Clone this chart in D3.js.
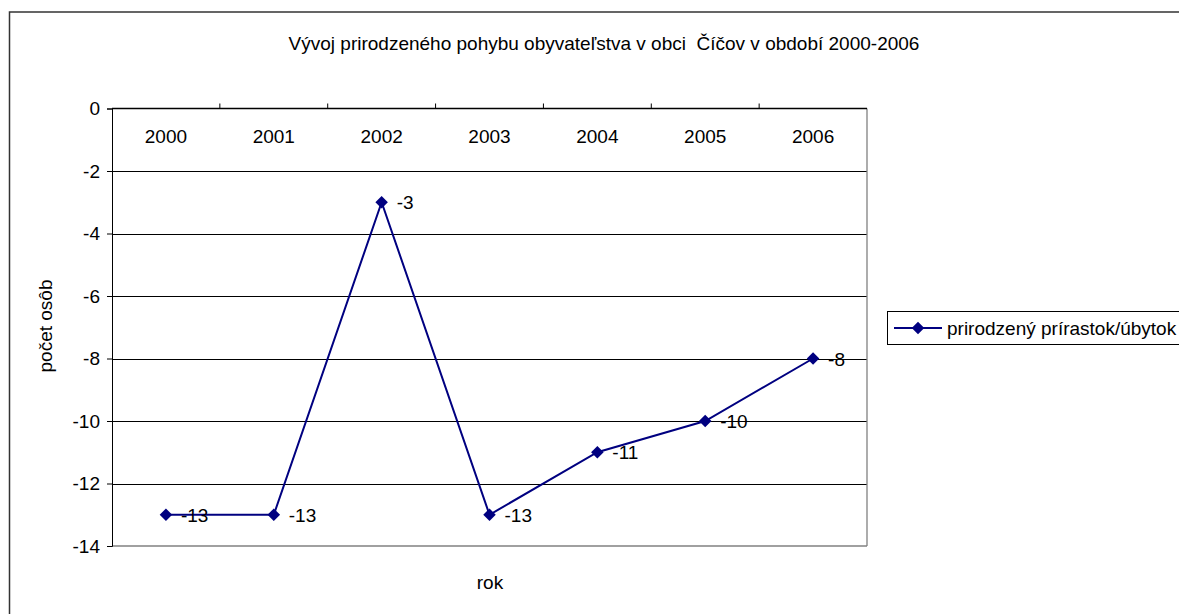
<!DOCTYPE html>
<html>
<head>
<meta charset="utf-8">
<script src="https://cdn.jsdelivr.net/npm/d3@7"></script>
<style>
  body { margin: 0; background: #fff; }
  text { font-family: "Liberation Sans", Arial, sans-serif; fill: #000; }
</style>
</head>
<body>
<script>
// údaje
const years = ["2000", "2001", "2002", "2003", "2004", "2005", "2006"];
const values = [-13, -13, -3, -13, -11, -10, -8];
const yTicks = [0, -2, -4, -6, -8, -10, -12, -14];
const seriesName = "prirodzený prírastok/úbytok";

const width = 1179;
const height = 614;
const plot = { left: 112, right: 867, top: 108.5, bottom: 546 };
const navy = "#000080";
const fs = "19px";

const svg = d3.select("body")
  .append("svg")
  .attr("width", width)
  .attr("height", height);

// vonkajší rámik
svg.append("rect")
  .attr("x", 9.5).attr("y", 12)
  .attr("width", 1200).attr("height", 650)
  .style("fill", "none")
  .style("stroke", "#333")
  .style("stroke-width", 1.5);

const x = d3.scaleBand()
  .domain(years)
  .range([plot.left, plot.right])
  .padding(0);

const y = d3.scaleLinear()
  .domain([-14, 0])
  .range([plot.bottom, plot.top]);

// mriežka
svg.selectAll(".grid")
  .data(yTicks.filter(d => d !== 0 && d !== -14))
  .enter()
  .append("line")
  .classed("grid", true)
  .attr("x1", plot.left).attr("x2", plot.right)
  .attr("y1", d => Math.round(y(d)) + 0.5)
  .attr("y2", d => Math.round(y(d)) + 0.5)
  .style("stroke", "#000")
  .style("stroke-width", 1);

// pravý a spodný okraj
svg.append("line")
  .attr("x1", plot.right).attr("x2", plot.right)
  .attr("y1", plot.top).attr("y2", plot.bottom)
  .style("stroke", "#808080").style("stroke-width", 1.3);
svg.append("line")
  .attr("x1", plot.left).attr("x2", plot.right)
  .attr("y1", plot.bottom).attr("y2", plot.bottom)
  .style("stroke", "#808080").style("stroke-width", 1.3);

// os y
const yAxis = svg.append("g")
  .attr("transform", `translate(${plot.left},0)`)
  .call(d3.axisLeft(y).tickValues(yTicks).tickSize(5).tickPadding(7).tickFormat(d => String(d)));
yAxis.select(".domain").style("stroke", "#000");
yAxis.selectAll("text")
  .style("font-size", fs)
  .style("font-family", "'Liberation Sans', Arial, sans-serif");

// os x hore (pri 0)
const xAxis = svg.append("g")
  .attr("transform", `translate(0,${y(0)})`)
  .call(d3.axisBottom(x).tickSize(0).tickPadding(21));
xAxis.select(".domain").remove();
xAxis.selectAll("text")
  .style("font-size", fs)
  .style("font-family", "'Liberation Sans', Arial, sans-serif");

svg.append("line")
  .attr("x1", plot.left).attr("x2", plot.right)
  .attr("y1", y(0)).attr("y2", y(0))
  .style("stroke", "#000").style("stroke-width", 1.3);

svg.selectAll(".xtick")
  .data(years.slice(1))
  .enter()
  .append("line")
  .classed("xtick", true)
  .attr("x1", d => x(d)).attr("x2", d => x(d))
  .attr("y1", y(0)).attr("y2", y(0) - 5)
  .style("stroke", "#000");

// séria
const cx = d => x(d) + x.bandwidth() / 2;
const line = d3.line()
  .x((d, i) => cx(years[i]))
  .y(d => y(d));

svg.append("path")
  .datum(values)
  .attr("d", line)
  .style("fill", "none")
  .style("stroke", navy)
  .style("stroke-width", 2);

const diamond = d3.symbol().type(d3.symbolDiamond2).size(100);

svg.selectAll(".pt")
  .data(values)
  .enter()
  .append("path")
  .classed("pt", true)
  .attr("d", diamond)
  .attr("transform", (d, i) => `translate(${cx(years[i])},${y(d)})`)
  .style("fill", navy);

svg.selectAll(".lbl")
  .data(values)
  .enter()
  .append("text")
  .classed("lbl", true)
  .attr("x", (d, i) => cx(years[i]) + 15)
  .attr("y", d => y(d) + 7)
  .style("font-size", fs)
  .text(d => d);

// nadpis
svg.append("text")
  .attr("x", 604).attr("y", 50)
  .attr("text-anchor", "middle")
  .attr("xml:space", "preserve")
  .style("white-space", "pre")
  .style("font-size", fs)
  .text("Vývoj prirodzeného pohybu obyvateľstva v obci  Číčov v období 2000-2006");

// názvy osí
svg.append("text")
  .attr("transform", "translate(52,326) rotate(-90)")
  .attr("text-anchor", "middle")
  .style("font-size", fs)
  .text("počet osôb");

svg.append("text")
  .attr("x", 490).attr("y", 589)
  .attr("text-anchor", "middle")
  .style("font-size", fs)
  .text("rok");

// legenda
const legend = svg.append("g").attr("transform", "translate(887,311)");
legend.append("rect")
  .attr("x", 0.5).attr("y", 0.5)
  .attr("width", 400).attr("height", 33)
  .style("fill", "#fff")
  .style("stroke", "#000");
legend.append("line")
  .attr("x1", 7).attr("x2", 55)
  .attr("y1", 17).attr("y2", 17)
  .style("stroke", navy).style("stroke-width", 2);
legend.append("path")
  .attr("d", diamond)
  .attr("transform", "translate(31,17)")
  .style("fill", navy);
legend.append("text")
  .attr("x", 60).attr("y", 24)
  .style("font-size", fs)
  .text(seriesName);
</script>
</body>
</html>
